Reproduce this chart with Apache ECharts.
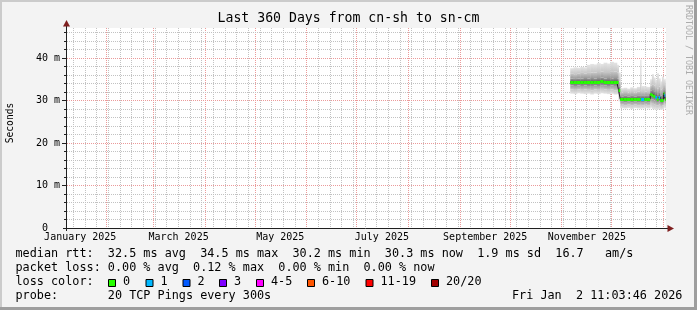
<!DOCTYPE html>
<html><head><meta charset="utf-8">
<script src="https://cdn.jsdelivr.net/npm/echarts@6/dist/echarts.min.js"></script>
<style>html,body{margin:0;padding:0;background:#f3f3f3}#c{width:697px;height:310px}</style>
</head><body><div id="c"></div>
<script>
// ---------- data ----------
const graphEnd = '2026-01-02 11:03:46';   // local time (CST, UTC+8)
const rangeDays = 360;
const yMax = 47.06;                        // ms

const stepStart = ['2025-11-06','2025-11-08','2025-11-10','2025-11-12','2025-11-14','2025-11-16','2025-11-18','2025-11-20',
  '2025-11-22','2025-11-24','2025-11-26','2025-11-28','2025-11-30','2025-12-02','2025-12-04','2025-12-05',
  '2025-12-06','2025-12-08','2025-12-10','2025-12-12','2025-12-14','2025-12-16','2025-12-18 00:00','2025-12-18 12:00',
  '2025-12-20 12:00','2025-12-22','2025-12-24','2025-12-25','2025-12-26','2025-12-27','2025-12-28','2025-12-29',
  '2025-12-30','2025-12-31','2026-01-01 00:00','2026-01-01 12:00','2026-01-02'];
const median   = [34.35,34.30,34.35,34.30,34.35,34.30,34.35,34.30,34.40,34.50,34.35,34.35,34.30,34.35,34.30,32.40,
  30.35,30.35,30.40,30.35,30.35,30.40,30.35,30.35,30.40,30.35,31.45,31.40,31.10,30.90,30.40,30.80,30.20,30.20,31.70,31.30,30.30];
const smokeMin = [31.6,31.5,31.7,31.6,31.5,31.6,31.4,31.6,31.5,31.7,31.6,31.5,31.6,31.4,31.5,29.8,
  28.2,28.1,28.2,28.0,28.2,28.1,28.0,28.1,28.2,28.1,28.3,28.0,27.9,27.8,27.9,28.0,27.8,27.9,28.3,28.2,28.1];
const smokeLo2 = [32.6,32.5,32.6,32.5,32.6,32.5,32.4,32.6,32.5,32.7,32.6,32.5,32.6,32.4,32.5,30.8,
  29.0,28.9,29.0,28.9,29.0,28.9,28.9,28.9,29.0,28.9,29.4,29.2,29.0,28.9,28.8,29.0,28.7,28.8,29.4,29.3,29.0];
const smokeLo1 = [33.5,33.4,33.5,33.4,33.5,33.4,33.4,33.5,33.4,33.6,33.5,33.4,33.5,33.4,33.4,31.6,
  29.7,29.6,29.7,29.6,29.7,29.6,29.6,29.6,29.7,29.6,30.3,30.2,30.0,29.9,29.6,29.8,29.4,29.4,30.4,30.3,29.7];
const smokeHi1 = [35.2,35.1,35.2,35.2,35.3,35.2,35.3,35.2,35.3,35.4,35.2,35.3,35.2,35.3,35.2,33.2,
  31.0,31.1,31.0,31.1,31.0,31.1,31.2,31.1,31.1,31.1,32.4,32.5,32.2,32.0,31.5,31.9,31.2,31.3,32.6,32.4,31.5];
const smokeHi2 = [36.3,36.2,36.4,36.5,36.4,36.5,36.6,36.6,36.7,36.8,36.7,36.7,36.9,36.8,36.6,34.5,
  31.9,32.0,31.9,32.0,31.9,32.1,32.4,32.0,32.1,32.0,33.5,33.8,33.5,33.2,32.8,33.3,32.6,32.9,33.7,33.6,33.0];
const smokeMax = [37.6,37.8,37.7,37.9,37.8,38.4,38.6,38.5,38.8,38.6,38.9,38.7,39.1,38.9,38.4,36.6,
  32.9,33.0,32.8,33.1,32.9,33.2,39.6,33.4,33.3,33.2,35.0,36.2,35.4,34.8,36.4,35.2,34.5,35.6,34.9,35.1,34.6];
const lostPings = [0,0,0,0,0,0,0,0,0,0,0,0,0,0,0,0, 0,0,0,0,0,0,0,1,0,0,0,0,0,1,0,1,0,0,0,1,0];

const yLabelValues = [0,10,20,30,40];
const xLabelMonths = ['2025-01','2025-03','2025-05','2025-07','2025-09','2025-11'];
const monthNames = ['January','February','March','April','May','June','July','August','September','October','November','December'];
const lossLegend = ['0','1','2','3','4-5','6-10','11-19','20/20'];
const lossColors = ['#26ff00','#00b8ff','#0059ff','#7e00ff','#ff00ff','#ff5500','#ff0000','#a10000'];
const legendLines = [
  'median rtt:  32.5 ms avg  34.5 ms max  30.2 ms min  30.3 ms now  1.9 ms sd  16.7   am/s',
  'packet loss: 0.00 % avg  0.12 % max  0.00 % min  0.00 % now',
  'loss color:',
  'probe:       20 TCP Pings every 300s'
];
const title = 'Last 360 Days from cn-sh to sn-cm';
const dateStamp = 'Fri Jan  2 11:03:46 2026';

// ---------- helpers ----------
const FONT = '"DejaVu Sans Mono", monospace';
const TZ = 8 * 3600e3, DAY = 86400e3;
function cst(s){
  const [d, t = '00:00:00'] = s.split(' ');
  const [Y, M, D] = d.split('-').map(Number);
  const [h, m, sec = 0] = t.split(':').map(Number);
  return Date.UTC(Y, M - 1, D, h, m, sec) - TZ;
}
const endTime = cst(graphEnd);
const startTime = endTime - rangeDays * DAY;
function lossClass(n){ if (n <= 3) return n; if (n <= 5) return 4; if (n <= 10) return 5; if (n < 20) return 6; return 7; }

const weekLines = [];
for (let t = cst('2025-01-12'); t < endTime; t += 7 * DAY) weekLines.push([t, 0]);
const monthLines = [];
for (let y = 2025, m = 2; ; m++) { if (m > 12) { m = 1; y++; } const t = cst(y + '-' + String(m).padStart(2,'0') + '-01'); if (t >= endTime) break; monthLines.push([t, 0]); }
const minorH = [], majorH = [];
for (let v = 2; v < yMax; v += 2) (v % 10 === 0 ? majorH : minorH).push([startTime, v]);

const smokeData = stepStart.map((s, i) => [cst(s), i + 1 < stepStart.length ? cst(stepStart[i + 1]) : endTime,
  smokeMin[i], smokeLo2[i], smokeLo1[i], median[i], smokeHi1[i], smokeHi2[i], smokeMax[i]]);
const medData = stepStart.map((s, i) => [cst(s), i + 1 < stepStart.length ? cst(stepStart[i + 1]) : endTime, median[i], lossClass(lostPings[i])]);
const medLine = stepStart.map((s, i) => [cst(s), median[i]]).concat([[endTime, median[median.length - 1]]]);

const GRAY = '#c2c2c2', RED = '#eb9a9a';
const grad = (a, b) => new echarts.graphic.LinearGradient(0, 0, 0, 1, [{offset:0, color:a}, {offset:1, color:b}]);
const bandFills = [
  grad('#c6c6c6', '#e4e4e4'),
  grad('#9a9a9a', '#c6c6c6'),
  grad('#5e5e5e', '#9a9a9a'),
  grad('#9a9a9a', '#5e5e5e'),
  grad('#c6c6c6', '#9a9a9a'),
  grad('#e4e4e4', '#c6c6c6')
];

function vLine(color){
  return (params, api) => {
    const cs = params.coordSys;
    const x = Math.floor(api.coord([api.value(0), 0])[0]) + 0.5;
    return {type:'line', shape:{x1:x, y1:cs.y, x2:x, y2:cs.y + cs.height - 1}, style:{stroke:color, lineWidth:1, lineDash:[1,1]}};
  };
}
function hLine(color, tick){
  return (params, api) => {
    const cs = params.coordSys;
    const y = Math.floor(api.coord([api.value(0), api.value(1)])[1]) + 0.5;
    return {type:'group', children:[
      {type:'line', shape:{x1:cs.x + 1, y1:y, x2:cs.x + cs.width, y2:y}, style:{stroke:color, lineWidth:1, lineDash:[1,1]}},
      {type:'line', shape:{x1:cs.x - tick, y1:y, x2:cs.x, y2:y}, style:{stroke:'#1f1f1f', lineWidth:1}}
    ]};
  };
}

// ---------- chart ----------
const chart = echarts.init(document.getElementById('c'), null, {renderer: 'canvas'});
const graphic = [
  {type:'rect', shape:{x:0,y:0,width:697,height:2}, style:{fill:'#cbcbcb'}, silent:true},
  {type:'rect', shape:{x:0,y:0,width:2,height:310}, style:{fill:'#cbcbcb'}, silent:true},
  {type:'rect', shape:{x:0,y:307,width:697,height:3}, style:{fill:'#9e9e9e'}, silent:true},
  {type:'rect', shape:{x:694,y:0,width:3,height:310}, style:{fill:'#9e9e9e'}, silent:true},
  {type:'text', x:348.5, y:19, style:{text:title, fontFamily:FONT, fontSize:13.2, fill:'#000', align:'center', verticalAlign:'middle'}},
  {type:'text', x:10, y:123, rotation:Math.PI/2, style:{text:'Seconds', fontFamily:FONT, fontSize:9.6, fill:'#000', align:'center', verticalAlign:'middle'}},
  {type:'text', x:688.5, y:60, rotation:-Math.PI/2, style:{text:'RRDTOOL / TOBI OETIKER', fontFamily:FONT, fontSize:8.3, fill:'#ababab', align:'center', verticalAlign:'middle'}},
  {type:'line', shape:{x1:66.5,y1:25,x2:66.5,y2:231}, style:{stroke:'#1f1f1f', lineWidth:1}, z:10},
  {type:'line', shape:{x1:63,y1:228.5,x2:668,y2:228.5}, style:{stroke:'#1f1f1f', lineWidth:1}, z:10},
  {type:'polygon', shape:{points:[[66.5,20],[63,26.5],[70,26.5]]}, style:{fill:'#7f1f1f'}, z:10},
  {type:'polygon', shape:{points:[[667.5,225],[674,228.5],[667.5,232]]}, style:{fill:'#7f1f1f'}, z:10},
  {type:'text', x:512, y:296, style:{text:dateStamp, fontFamily:FONT, fontSize:11.8, fill:'#000', align:'left', verticalAlign:'middle'}}
];
legendLines.forEach((l, i) => graphic.push({type:'text', x:15.5, y:254 + 14 * i,
  style:{text:l, fontFamily:FONT, fontSize:11.8, fill:'#000', align:'left', verticalAlign:'middle'}}));
const boxX = [108.5, 146, 183, 219.5, 256.5, 307.5, 366, 431.5];
lossLegend.forEach((lab, i) => {
  graphic.push({type:'rect', shape:{x:boxX[i], y:279.5, width:7, height:7}, style:{fill:lossColors[i], stroke:'#000', lineWidth:1}});
  graphic.push({type:'text', x:boxX[i] + 14.5, y:282, style:{text:lab, fontFamily:FONT, fontSize:11.8, fill:'#000', align:'left', verticalAlign:'middle'}});
});

chart.setOption({
  animation: false,
  backgroundColor: '#f3f3f3',
  grid: {left:66, right:31, top:28, bottom:82, show:true, backgroundColor:'#ffffff', borderWidth:0, containLabel:false, outerBoundsMode:'none'},
  xAxis: {type:'value', min:startTime, max:endTime, axisLine:{show:false}, axisTick:{show:false}, splitLine:{show:false},
    axisLabel:{customValues: xLabelMonths.map(m => cst(m + '-16')), margin:4, fontFamily:FONT, fontSize:10, color:'#000',
      formatter: v => { const d = new Date(v + TZ); return monthNames[d.getUTCMonth()] + ' ' + d.getUTCFullYear(); }}},
  yAxis: {type:'value', min:0, max:yMax, axisLine:{show:false}, axisTick:{show:false}, splitLine:{show:false},
    axisLabel:{customValues: yLabelValues, margin:6, fontFamily:FONT, fontSize:10, color:'#000',
      formatter: v => v === 0 ? '0  ' : v + ' m'}},
  graphic: graphic,
  series: [
    {type:'custom', z:1, silent:true, clip:false, data:weekLines, encode:{x:0, y:1}, renderItem: vLine(GRAY)},
    {type:'custom', z:1, silent:true, clip:false, data:monthLines, encode:{x:0, y:1}, renderItem: vLine(RED)},
    {type:'custom', z:1, silent:true, clip:false, data:minorH, encode:{x:0, y:1}, renderItem: hLine(GRAY, 2)},
    {type:'custom', z:1, silent:true, clip:false, data:majorH, encode:{x:0, y:1}, renderItem: hLine(RED, 4)},
    {type:'custom', z:2, silent:true, clip:true, data:smokeData, encode:{x:[0,1], y:[2,3,4,5,6,7,8]},
      renderItem: (params, api) => {
        const t0 = api.value(0);
        const x0 = api.coord([t0, 0])[0], x1 = api.coord([api.value(1), 0])[0];
        const ys = [2,3,4,5,6,7,8].map(d => api.coord([t0, api.value(d)])[1]);
        const children = [];
        for (let k = 0; k < 6; k++) children.push({type:'rect',
          shape:{x:x0, y:ys[k + 1], width:x1 - x0 + 0.4, height:ys[k] - ys[k + 1]}, style:{fill:bandFills[k]}});
        return {type:'group', children};
      }},
    {type:'line', z:3, silent:true, step:'end', showSymbol:false, symbol:'none', data:medLine,
      lineStyle:{color:'#202020', width:1}},
    {type:'custom', z:4, silent:true, clip:true, data:medData, encode:{x:[0,1], y:2},
      renderItem: (params, api) => {
        const t0 = api.value(0);
        const x0 = api.coord([t0, 0])[0], x1 = api.coord([api.value(1), 0])[0];
        const y = Math.round(api.coord([t0, api.value(2)])[1]);
        return {type:'rect', shape:{x:x0, y:y - 1, width:x1 - x0, height:3}, style:{fill:lossColors[api.value(3)]}};
      }}
  ]
});
</script></body></html>
